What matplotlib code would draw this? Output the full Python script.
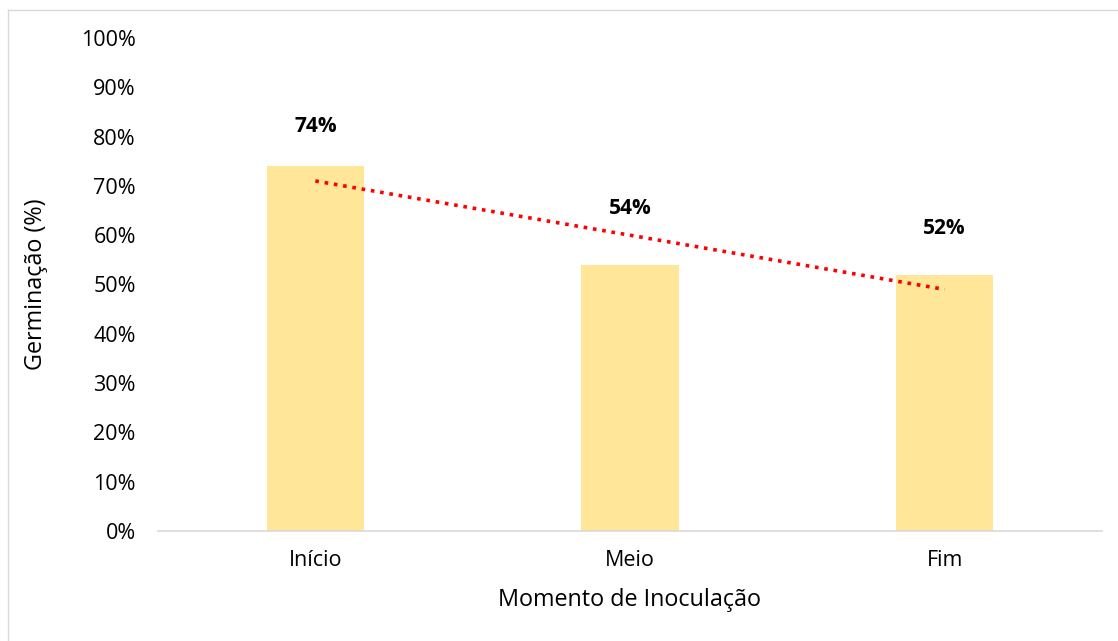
import matplotlib.pyplot as plt
from matplotlib.ticker import PercentFormatter
import numpy as np

categories = ['Início', 'Meio', 'Fim']
germination = [74, 54, 52]
label_heights = [82, 65.5, 61.3]

plt.rcParams['font.family'] = ['Open Sans', 'DejaVu Sans']

fig = plt.figure(figsize=(11.18, 6.41), dpi=100)
ax = fig.add_axes([158 / 1118, 1 - 531 / 641, 944 / 1118, 493 / 641])

x = np.arange(len(categories))
ax.bar(x, germination, width=0.31, color='#FFE699', zorder=2)

# linear trendline
coef = np.polyfit(x, germination, 1)
ax.plot(x, np.polyval(coef, x), color='#FF0000', linestyle=(0, (1, 1.6)),
        linewidth=2.6, zorder=3)

for xi, v, h in zip(x, germination, label_heights):
    ax.text(xi, h, f'{v}%', ha='center', va='center', fontsize=15,
            fontweight='bold', color='black')

ax.set_xlim(-0.5, 2.5)
ax.set_ylim(0, 100)
ax.set_yticks(np.arange(0, 101, 10))
ax.yaxis.set_major_formatter(PercentFormatter(decimals=0))
ax.set_xticks(x)
ax.set_xticklabels(categories)
ax.tick_params(axis='both', length=0, labelsize=15.5, colors='black')
ax.tick_params(axis='x', pad=14)
ax.tick_params(axis='y', pad=16)

for s in ['top', 'right', 'left']:
    ax.spines[s].set_visible(False)
ax.spines['bottom'].set_color('#d9d9d9')
ax.spines['bottom'].set_linewidth(1.2)

ax.set_xlabel('Momento de Inoculação', fontsize=16.8, labelpad=12)
ax.set_ylabel('Germinação (%)', fontsize=16.8, labelpad=24)

# outer chart border (top and left only visible)
fig.add_artist(plt.Line2D([8 / 1118, 8 / 1118], [0, 1 - 10 / 641],
                          color='#d9d9d9', linewidth=1, transform=fig.transFigure))
fig.add_artist(plt.Line2D([8 / 1118, 1], [1 - 10 / 641, 1 - 10 / 641],
                          color='#d9d9d9', linewidth=1, transform=fig.transFigure))

fig.savefig('out.png', dpi=100)
